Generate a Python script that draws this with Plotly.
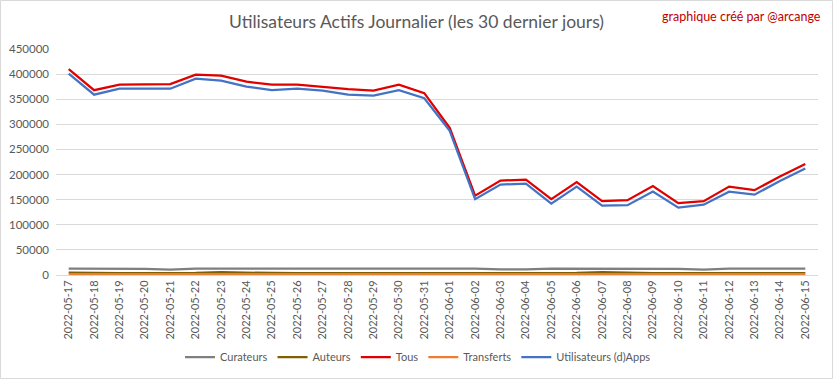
import plotly.graph_objects as go

dates = ["2022-05-17","2022-05-18","2022-05-19","2022-05-20","2022-05-21","2022-05-22","2022-05-23",
         "2022-05-24","2022-05-25","2022-05-26","2022-05-27","2022-05-28","2022-05-29","2022-05-30",
         "2022-05-31","2022-06-01","2022-06-02","2022-06-03","2022-06-04","2022-06-05","2022-06-06",
         "2022-06-07","2022-06-08","2022-06-09","2022-06-10","2022-06-11","2022-06-12","2022-06-13",
         "2022-06-14","2022-06-15"]

tous = [410000,368000,379000,379000,380000,399000,397000,385000,379000,379000,374000,370000,367000,379000,
        362000,293000,158000,188000,190000,151000,185000,147000,149000,177000,143000,147000,176000,169000,
        196000,221000]
apps = [401000,359000,371000,371000,371000,391000,387000,375000,368000,371000,367000,359000,357000,368000,
        352000,287000,151000,180000,182000,142000,176000,138000,139000,166000,134000,140000,166000,160000,
        187000,212000]
curateurs = [12500,12500,12500,12000,10500,12500,12500,12500,12500,12500,12500,12500,12500,12500,
             12500,12500,12500,11000,11000,12500,12500,12500,12500,12500,12000,10500,12500,12500,
             12500,12500]
auteurs = [4500,3500,3500,3500,3500,4000,5500,5500,4000,3500,3500,3500,3500,5000,
           4000,3500,3500,3500,3500,3500,4000,5500,4000,3500,3500,3500,3500,3500,
           3500,3500]
transferts = [1800,1800,1800,1800,1800,1800,1800,1800,1800,1800,1800,1800,1800,1800,
              1800,1800,1800,1800,1800,1800,1800,1800,1800,1800,1800,1800,1800,1800,
              1800,1800]

series = [
    ("Curateurs", curateurs, "#7f7f7f"),
    ("Auteurs", auteurs, "#7f6000"),
    ("Tous", tous, "#e00000"),
    ("Transferts", transferts, "#ed7d31"),
    ("Utilisateurs (d)Apps", apps, "#4472c4"),
]

fig = go.Figure()
for name, vals, col in series:
    fig.add_trace(go.Scatter(x=dates, y=vals, name=name, mode="lines",
                             line=dict(color=col, width=2.25)))

font_fam = "Lato, Open Sans, Liberation Sans, sans-serif"
fig.update_layout(
    width=833, height=379,
    margin=dict(l=56, r=15, t=49, b=104, autoexpand=False),
    paper_bgcolor="white", plot_bgcolor="white",
    title=dict(text="Utilisateurs Actifs Journalier (les 30 dernier jours)",
               x=0.5, xanchor="center", y=1 - 22/379, yanchor="middle",
               font=dict(family=font_fam, size=17.5, color="#595959")),
    font=dict(family=font_fam, color="#595959"),
    showlegend=True,
    legend=dict(orientation="h", x=(418-56)/762, xanchor="center", y=-0.363, yanchor="middle",
                font=dict(size=11, color="#595959"), itemwidth=30, tracegroupgap=0,
                bgcolor="rgba(0,0,0,0)"),
    xaxis=dict(type="category", range=[-0.5, 29.5], tickangle=-90,
               tickfont=dict(size=11, color="#595959"), showgrid=False,
               showline=True, linecolor="#d9d9d9", ticks="", fixedrange=True),
    yaxis=dict(range=[0, 450000], dtick=50000, tickformat="d",
               tickfont=dict(size=11.5, color="#595959"), showgrid=True,
               gridcolor="#d9d9d9", gridwidth=1, zeroline=False, showline=False,
               ticks="", ticklabelstandoff=6, fixedrange=True),
    annotations=[dict(text="graphique créé par @arcange", xref="paper", yref="paper",
                      x=(823-56)/762, xanchor="right", y=1 + (49-16)/226, yanchor="middle",
                      showarrow=False, font=dict(family=font_fam, size=12.5, color="#c00000"))],
    shapes=[dict(type="rect", xref="paper", yref="paper",
                 x0=(0.5-56)/762, x1=(832.5-56)/762, y0=(275-378.5)/226, y1=(275-0.5)/226,
                 line=dict(color="#d9d9d9", width=1), fillcolor="rgba(0,0,0,0)", layer="below")],
)

fig.write_html("out.html", config={"displayModeBar": False},
               post_script="document.body.style.margin='0';document.body.style.padding='0';")
